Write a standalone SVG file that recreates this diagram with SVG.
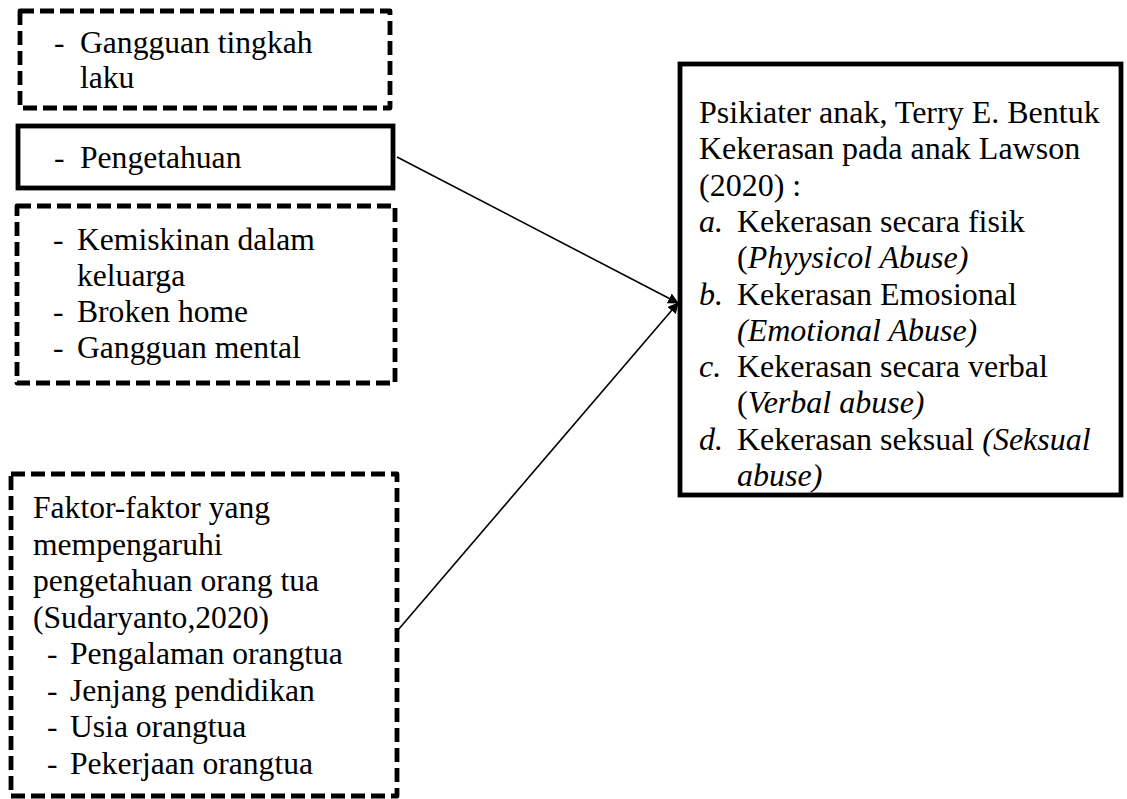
<svg xmlns="http://www.w3.org/2000/svg" width="1127" height="799" viewBox="0 0 1127 799">
<defs>
<marker id="arr" viewBox="0 0 10 10" refX="9" refY="5" markerWidth="11" markerHeight="11" markerUnits="userSpaceOnUse" orient="auto">
<path d="M0,0 L10,5 L0,10 z" fill="#000"/>
</marker>
<style>
.dash{fill:#fff;stroke:#000;stroke-width:4.8;stroke-dasharray:14 6;stroke-linejoin:round}
.solid{fill:#fff;stroke:#000;stroke-width:4.8}
text{font-family:"Liberation Serif","Times New Roman",serif;font-size:31.6px;fill:#000}
.r text{font-size:32px}
.i{font-style:italic}
.conn{stroke:#000;stroke-width:1.6;fill:none}
</style>
</defs>
<rect width="1127" height="799" fill="#fff"/>
<g id="node-gangguan-tingkah">
<rect class="dash" x="20" y="11" width="370" height="97"/>
<text x="54" y="53">-</text><text x="80" y="53">Gangguan tingkah</text>
<text x="80" y="88">laku</text>
</g>
<g id="node-pengetahuan">
<rect class="solid" x="18" y="126" width="375" height="62"/>
<text x="54" y="168">-</text><text x="80" y="168">Pengetahuan</text>
</g>
<g id="node-kemiskinan">
<rect class="dash" x="17" y="206" width="378" height="177"/>
<text x="53" y="250">-</text><text x="77" y="250">Kemiskinan dalam</text>
<text x="77" y="286">keluarga</text>
<text x="53" y="322">-</text><text x="77" y="322">Broken home</text>
<text x="53" y="358">-</text><text x="77" y="358">Gangguan mental</text>
</g>
<g id="node-faktor">
<rect class="dash" x="11" y="474" width="386" height="322"/>
<text x="33" y="518">Faktor-faktor yang</text>
<text x="33" y="554.5">mempengaruhi</text>
<text x="33" y="591">pengetahuan orang tua</text>
<text x="33" y="627.5">(Sudaryanto,2020)</text>
<text x="47" y="664">-</text><text x="70" y="664">Pengalaman orangtua</text>
<text x="47" y="700.5">-</text><text x="70" y="700.5">Jenjang pendidikan</text>
<text x="47" y="737">-</text><text x="70" y="737">Usia orangtua</text>
<text x="47" y="773.5">-</text><text x="70" y="773.5">Pekerjaan orangtua</text>
</g>
<g id="node-bentuk-kekerasan" class="r">
<rect class="solid" x="680" y="64" width="441" height="431"/>
<text x="699" y="123">Psikiater anak, Terry E. Bentuk</text>
<text x="699" y="159.3">Kekerasan pada anak Lawson</text>
<text x="699" y="195.6">(2020) :</text>
<text x="699" y="231.9"><tspan class="i">a.</tspan></text><text x="737" y="231.9">Kekerasan secara fisik</text>
<text x="737" y="268.2">(<tspan class="i">Phyysicol Abuse)</tspan></text>
<text x="699" y="304.5"><tspan class="i">b.</tspan></text><text x="737" y="304.5">Kekerasan Emosional</text>
<text x="737" y="340.8" class="i">(Emotional Abuse)</text>
<text x="699" y="377.1"><tspan class="i">c.</tspan></text><text x="737" y="377.1">Kekerasan secara verbal</text>
<text x="737" y="413.4">(<tspan class="i">Verbal abuse)</tspan></text>
<text x="699" y="449.7"><tspan class="i">d.</tspan></text><text x="737" y="449.7">Kekerasan seksual <tspan class="i">(Seksual</tspan></text>
<text x="737" y="486" class="i">abuse)</text>
</g>
<g id="connectors">
<line class="conn" x1="397" y1="157" x2="678" y2="303" marker-end="url(#arr)"/>
<line class="conn" x1="398" y1="630" x2="678" y2="303" marker-end="url(#arr)"/>
</g>
</svg>
